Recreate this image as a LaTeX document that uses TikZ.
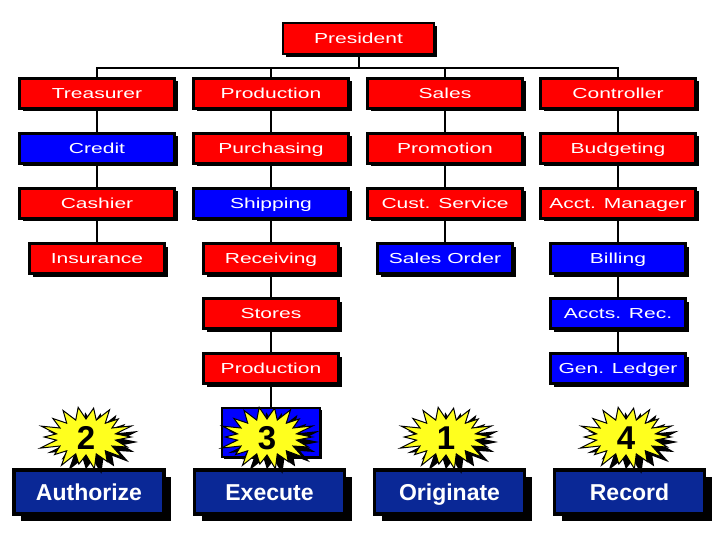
\documentclass[tikz,border=0pt]{standalone}
\usepackage{fontspec}
\usepackage{graphicx}
\setmainfont{Liberation Sans}
\usetikzlibrary{shadows}
\definecolor{boxred}{RGB}{255,0,0}
\definecolor{boxblue}{RGB}{0,0,255}
\definecolor{navy}{RGB}{10,40,150}
\definecolor{burstyellow}{RGB}{255,255,30}
\newcommand\wtxt[1]{\scalebox{1.45}[1]{#1}}
\tikzset{
  orgbox/.style={draw=black, line width=2.5pt, minimum width=155pt, minimum height=30pt,
    inner sep=0pt, text=white, font=\fontsize{14.5}{14.5}\selectfont,
    text height=10.5pt, text depth=0.5pt,
    drop shadow={shadow xshift=3pt, shadow yshift=-3pt, fill=black, opacity=1}},
  redbox/.style={orgbox, fill=boxred},
  bluebox/.style={orgbox, fill=boxblue},
  narrow/.style={minimum width=135pt},
  stepname/.style={draw=black, line width=3.5pt, fill=navy, minimum width=150pt, minimum height=44pt,
    inner sep=0pt, text=white, font=\fontsize{23}{23}\selectfont\bfseries,
    text height=16.5pt, text depth=0pt,
    drop shadow={shadow xshift=7pt, shadow yshift=-7pt, fill=black, opacity=1}},
  link/.style={draw=black, line width=2pt},
  numtxt/.style={font=\fontsize{33}{33}\selectfont\bfseries, text=black, inner sep=0pt},
  burst/.pic={
    \fill[black] plot[samples at={0,...,35}, variable=\t]
      ({7+ifthenelse(mod(\t,2)==0,45*(1+0.09*sin(\t*97)),30)*cos(\t*10)},
       {5+ifthenelse(mod(\t,2)==0,30*(1+0.09*sin(\t*97)),18)*sin(\t*10)}) -- cycle;
    \draw[black, line width=1pt, fill=burstyellow] plot[samples at={0,...,35}, variable=\t]
      ({ifthenelse(mod(\t,2)==0,45*(1+0.09*sin(\t*97)),30)*cos(\t*10)},
       {ifthenelse(mod(\t,2)==0,30*(1+0.09*sin(\t*97)),18)*sin(\t*10)}) -- cycle;
  }
}
\begin{document}
\begin{tikzpicture}[x=1pt,y=-1pt]
\useasboundingbox[fill=white] (0,0) rectangle (720,540);

% President
\node[redbox, minimum width=151pt, minimum height=31pt] (pres) at (358.5,38.5) {\wtxt{President}};

% Row 1
\node[redbox] (treas) at (97,93.5) {\wtxt{Treasurer}};
\node[redbox] (prod) at (271,93.5) {\wtxt{Production}};
\node[redbox] (sales) at (445,93.5) {\wtxt{Sales}};
\node[redbox] (ctrl) at (618,93.5) {\wtxt{Controller}};
% Row 2
\node[bluebox] (credit) at (97,148.5) {\wtxt{Credit}};
\node[redbox] (purch) at (271,148.5) {\wtxt{Purchasing}};
\node[redbox] (promo) at (445,148.5) {\wtxt{Promotion}};
\node[redbox] (budget) at (618,148.5) {\wtxt{Budgeting}};
% Row 3
\node[redbox] (cash) at (97,203.5) {\wtxt{Cashier}};
\node[bluebox] (ship) at (271,203.5) {\wtxt{Shipping}};
\node[redbox] (cust) at (445,203.5) {\wtxt{Cust. Service}};
\node[redbox] (acct) at (618,203.5) {\wtxt{Acct. Manager}};
% Row 4
\node[redbox, narrow] (ins) at (97,258.5) {\wtxt{Insurance}};
\node[redbox, narrow] (recv) at (271,258.5) {\wtxt{Receiving}};
\node[bluebox, narrow] (sord) at (445,258.5) {\wtxt{Sales Order}};
\node[bluebox, narrow] (bill) at (618,258.5) {\wtxt{Billing}};
% Row 5
\node[redbox, narrow] (stores) at (271,313.5) {\wtxt{Stores}};
\node[bluebox, narrow] (arec) at (618,313.5) {\wtxt{Accts. Rec.}};
% Row 6
\node[redbox, narrow] (prod2) at (271,368.5) {\wtxt{Production}};
\node[bluebox, narrow] (gled) at (618,368.5) {\wtxt{Gen. Ledger}};

% hidden box behind star 3
\node[draw=black, line width=1.5pt, fill=boxblue, minimum width=98pt, minimum height=49pt,
  drop shadow={shadow xshift=2pt, shadow yshift=-2pt, fill=black, opacity=1}] (hid) at (271,432.5) {};

% connectors
\draw[link] (pres.south) -- ++(0,13) -| (treas.north);
\draw[link] (pres.south) -- ++(0,13) -| (prod.north);
\draw[link] (pres.south) -- ++(0,13) -| (sales.north);
\draw[link] (pres.south) -- ++(0,13) -| (ctrl.north);
\draw[link] (treas) -- (credit) -- (cash) -- (ins);
\draw[link] (prod) -- (purch) -- (ship) -- (recv) -- (stores) -- (prod2) -- (hid);
\draw[link] (sales) -- (promo) -- (cust) -- (sord);
\draw[link] (ctrl) -- (budget) -- (acct) -- (bill) -- (arec) -- (gled);

% bottom step boxes
\node[stepname] (auth) at (89,492) {Authorize};
\node[stepname] (exec) at (269.5,492) {Execute};
\node[stepname] (orig) at (449.5,492) {Originate};
\node[stepname] (rec) at (629.5,492) {Record};

% bursts with numbers
\pic at (86,437) {burst};
\node[numtxt] (n2) at (86,438) {2};
\pic at (267,437) {burst};
\node[numtxt] (n3) at (267,438) {3};
\pic at (446,437) {burst};
\node[numtxt] (n1) at (446,438) {1};
\pic at (626,437) {burst};
\node[numtxt] (n4) at (626,438) {4};
\end{tikzpicture}
\end{document}
